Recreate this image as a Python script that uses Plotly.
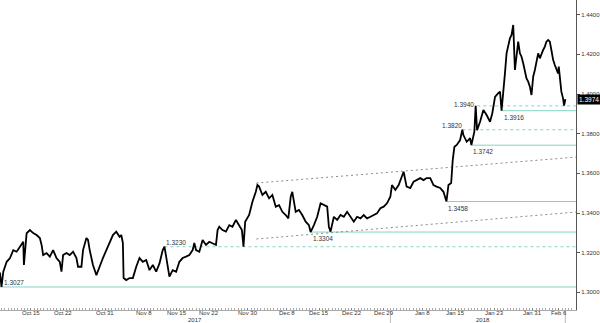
import numpy as np
import plotly.graph_objects as go

# ---------------- data (trading days since 2017-10-09 open, GBP/USD) ----------------
START = "2017-10-09"

day = [0.23, 0.46, 0.74, 1.26, 1.77, 2.28, 2.80, 3.31, 3.82, 3.92, 4.34, 4.85, 5.35, 5.88,
       6.38, 6.65, 6.89, 7.42, 7.92, 8.43, 8.95, 9.46, 9.72, 9.97, 10.49, 11.0, 11.51,
       12.03, 12.28, 12.80, 13.05, 13.57, 13.82, 14.08, 14.58, 15.11, 15.62,
       16.12, 16.65, 17.15, 17.66, 18.18, 18.69, 18.95, 19.20, 19.31, 19.72, 20.23, 20.74,
       21.26, 21.77, 22.28, 22.80, 23.31, 23.82, 24.34, 24.85, 25.35, 25.62, 25.88, 26.38,
       26.89, 27.42, 27.92, 28.43, 28.95, 29.46, 29.97, 30.23, 30.49, 31.0,
       31.51, 32.03, 32.54, 33.05, 33.57, 33.82, 34.08, 34.58, 35.11, 35.62, 36.12, 36.65,
       37.15, 37.57, 37.82, 38.08, 38.69, 39.20, 39.72, 39.97, 40.23, 40.74, 41.26, 41.77,
       42.28, 42.80, 43.31, 43.82, 44.34, 44.74, 45.11, 45.35, 45.88, 46.38,
       46.89, 47.42, 47.92, 48.18, 48.69, 49.20, 49.72, 50.23, 50.74, 51.0, 51.26, 51.77,
       52.28, 52.80, 53.31, 53.82, 54.34, 54.85, 55.35, 55.88, 56.38, 56.89, 57.42, 57.92,
       58.43, 58.95, 59.46, 59.97, 60.49, 60.74, 61.26, 61.77, 62.2, 62.54,
       63.0, 63.57, 64.08, 64.54, 65.11, 65.62, 66.08, 66.65, 67.15, 67.62, 68.18, 68.69,
       69.15, 69.46, 69.88, 70.12, 70.38, 70.74, 71.26, 71.6, 71.77, 72.28, 72.80, 73.0,
       73.46, 73.66, 73.88, 74.34, 74.85, 75.35, 75.88, 76.23, 76.65, 77.15,
       77.42, 77.66, 77.92, 78.18, 78.43, 78.69, 78.95, 79.20, 79.46, 79.72, 79.97, 80.23,
       80.49, 80.74, 81.0, 81.26, 81.51, 81.77, 82.03, 82.28, 82.54, 82.80, 83.05, 83.31,
       83.57, 83.82, 84.08, 84.34, 84.58, 84.85, 85.11, 85.35, 85.62, 85.88, 86.12, 86.38,
       86.49, 86.65, 86.89, 87.15, 87.31, 87.51]

price = [1.3100, 1.3027, 1.3104, 1.3154, 1.3173, 1.3213, 1.3205, 1.3230, 1.3255, 1.3138, 1.3298, 1.3314, 1.3299, 1.3289,
         1.3274, 1.3239, 1.3188, 1.3198, 1.3180, 1.3213, 1.3173, 1.3154, 1.3104, 1.3188, 1.3198, 1.3188, 1.3205,
         1.3173, 1.3129, 1.3129, 1.3213, 1.3274, 1.3264, 1.3213, 1.3138, 1.3087, 1.3133,
         1.3173, 1.3213, 1.3255, 1.3289, 1.3306, 1.3280, 1.3289, 1.3249, 1.3072, 1.3062, 1.3072, 1.3072,
         1.3129, 1.3173, 1.3154, 1.3163, 1.3112, 1.3138, 1.3104, 1.3146, 1.3213, 1.3230, 1.3180, 1.3079,
         1.3112, 1.3104, 1.3154, 1.3173, 1.3180, 1.3188, 1.3213, 1.3249, 1.3213, 1.3205,
         1.3264, 1.3239, 1.3255, 1.3249, 1.3239, 1.3314, 1.3331, 1.3314, 1.3306, 1.3339, 1.3331, 1.3365,
         1.3339, 1.3314, 1.3230, 1.3356, 1.3390, 1.3457, 1.3507, 1.3541, 1.3533, 1.3491, 1.3507, 1.3474,
         1.3491, 1.3432, 1.3440, 1.3406, 1.3390, 1.3373, 1.3482, 1.3507, 1.3406, 1.3415,
         1.3390, 1.3356, 1.3339, 1.3304, 1.3339, 1.3381, 1.3449, 1.3440, 1.3432, 1.3331, 1.3306, 1.3381,
         1.3365, 1.3390, 1.3381, 1.3406, 1.3381, 1.3356, 1.3381, 1.3373, 1.3390, 1.3373, 1.3381, 1.3390,
         1.3398, 1.3424, 1.3432, 1.3449, 1.3482, 1.3541, 1.3516, 1.3541, 1.3580, 1.3608,
         1.3533, 1.3526, 1.3558, 1.3566, 1.3576, 1.3566, 1.3576, 1.3576, 1.3541, 1.3533, 1.3526, 1.3507,
         1.3458, 1.3541, 1.3551, 1.3667, 1.3734, 1.3743, 1.3768, 1.3820, 1.3793, 1.3759, 1.3777, 1.3742,
         1.3810, 1.3940, 1.3818, 1.3860, 1.3919, 1.3894, 1.3860, 1.3903, 1.3986, 1.4004,
         1.4012, 1.3916, 1.3995, 1.4104, 1.4205, 1.4239, 1.4281, 1.4298, 1.4348, 1.4121, 1.4205, 1.4264,
         1.4205, 1.4188, 1.4155, 1.4113, 1.4079, 1.4062, 1.4037, 1.3995, 1.4087, 1.4121, 1.4172, 1.4205,
         1.4180, 1.4205, 1.4222, 1.4239, 1.4264, 1.4272, 1.4264, 1.4222, 1.4172, 1.4146, 1.4121, 1.4104,
         1.4138, 1.4071, 1.4012, 1.3978, 1.3942, 1.3974]

tick_dates = ["2017-10-15", "2017-10-22", "2017-10-31", "2017-11-08", "2017-11-15", "2017-11-22",
              "2017-11-30", "2017-12-08", "2017-12-15", "2017-12-22", "2017-12-29", "2018-01-08",
              "2018-01-15", "2018-01-23", "2018-01-31", "2018-02-06"]
tick_text = ["Oct 15", "Oct 22", "Oct 31", "Nov 8", "Nov 15", "Nov 22", "Nov 30", "Dec 8",
             "Dec 15", "Dec 22", "Dec 29", "Jan 8", "Jan 15", "Jan 23", "Jan 31", "Feb 6"]

y_ticks = [1.30, 1.32, 1.34, 1.36, 1.38, 1.40, 1.42, 1.44]

# horizontal support / resistance levels
level_value = [1.3027, 1.3230, 1.3304, 1.3458, 1.3742, 1.3820, 1.3916, 1.3940]
level_start = [None, 25.62, 48.18, 69.15, 73.0, 71.6, 77.66, 73.9]
level_dash = ["solid", "dash", "solid", "solid", "solid", "dash", "solid", "dash"]
level_label = ["above", "above", "below", "below", "below", "leftabove", "below", "left"]

# channel trendlines
trend_day = [[39.8, 89.2], [39.8, 89.2]]
trend_value = [[1.3551, 1.3682], [1.3269, 1.3405]]

last_price = price[-1]
year_sep_dates = ["2018-01-01", "2018-02-07"]
year_labels = ["2017", "2018"]

# ---------------- helpers ----------------
def tday(s):
    d = np.datetime64(s, "D")
    n = int(np.busday_count(np.datetime64(START, "D"), d))
    return n + (0.5 if np.is_busday(d) else 0.0)

XMIN, XMAX = 0.23, 89.15
YMIN, YMAX = 1.2911, 1.4474
TEAL = "#86d3c3"
TXT = "#333333"
FONT = "Liberation Sans"

fig = go.Figure()

shapes = []
annotations = []
for v, s, dsh, lab in zip(level_value, level_start, level_dash, level_label):
    x0 = XMIN if s is None else s
    shapes.append(dict(type="line", xref="x", yref="y", x0=x0, x1=XMAX, y0=v, y1=v,
                       line=dict(color=TEAL, width=1, dash="solid" if dsh == "solid" else "3px,3px"),
                       layer="below"))
    txt = f"{v:.4f}"
    if lab == "above":
        annotations.append(dict(x=x0, y=v, text=txt, xanchor="left", yanchor="bottom",
                                xshift=2 if s is None else 0, yshift=-1, showarrow=False))
    elif lab == "below":
        annotations.append(dict(x=x0, y=v, text=txt, xanchor="left", yanchor="top",
                                yshift=-1, showarrow=False))
    elif lab == "leftabove":
        annotations.append(dict(x=x0, y=v, text=txt, xanchor="right", yanchor="bottom",
                                xshift=2, yshift=-1, showarrow=False))
    else:
        annotations.append(dict(x=x0, y=v, text=txt, xanchor="right", yanchor="middle",
                                xshift=-1, yshift=1, showarrow=False))

for td, tv in zip(trend_day, trend_value):
    fig.add_trace(go.Scatter(x=td, y=tv, mode="lines", hoverinfo="skip",
                             line=dict(color="#8a8a8a", width=1, dash="2px,3px")))

fig.add_trace(go.Scatter(x=day, y=price, mode="lines",
                         line=dict(color="#000000", width=1.8)))

# current price tag
annotations.append(dict(xref="paper", x=1, y=last_price, text=f"{last_price:.4f}", xanchor="left",
                        yanchor="middle", xshift=1, showarrow=False, bgcolor="#000000",
                        font=dict(color="#ffffff", size=6.5, family=FONT), borderpad=1))

# date tick labels (placed just under the axis line)
tick_pos = [tday(d) for d in tick_dates]
for tp, tt in zip(tick_pos, tick_text):
    annotations.append(dict(x=tp, xref="x", yref="paper", y=-0.011, text=tt, showarrow=False,
                            yanchor="middle", xanchor="center", font=dict(size=6, color=TXT, family=FONT)))

# year labels and separators
year_pos = [(XMIN + tday(year_sep_dates[0])) / 2, (tday(year_sep_dates[0]) + XMAX) / 2]
for yl, xp in zip(year_labels, year_pos):
    annotations.append(dict(x=xp, xref="x", yref="paper", y=-0.033, text=yl, showarrow=False,
                            yanchor="middle", font=dict(size=6, color=TXT, family=FONT)))
for sd in year_sep_dates:
    xs = tday(sd)
    shapes.append(dict(type="line", xref="x", yref="paper", x0=xs, x1=xs, y0=0, y1=-0.05,
                       line=dict(color="#bbbbbb", width=1)))

for a in annotations:
    a.setdefault("font", dict(size=6.5, color=TXT, family=FONT))
    a.setdefault("xref", "x")
    a.setdefault("yref", "y")

fig.update_layout(
    width=600, height=323,
    margin=dict(l=0, r=22, t=0, b=13),
    paper_bgcolor="white", plot_bgcolor="white",
    showlegend=False,
    shapes=shapes, annotations=annotations,
    font=dict(family=FONT, size=6, color=TXT),
    xaxis=dict(range=[XMIN, XMAX], showgrid=False, zeroline=False,
               tickmode="array", tickvals=tick_pos, showticklabels=False,
               ticks="inside", ticklen=2, tickcolor="#888",
               showline=True, linecolor="#aaaaaa", linewidth=1,
               minor=dict(tickmode="linear", tick0=0, dtick=0.5, ticklen=2, tickcolor="#aaa", ticks="inside")),
    yaxis=dict(range=[YMIN, YMAX], side="right", showgrid=False, zeroline=False,
               tickmode="array", tickvals=y_ticks, tickformat=".4f",
               ticks="outside", ticklen=3, tickcolor="#555", tickfont=dict(size=6, color=TXT),
               showline=True, linecolor="#555555", linewidth=1),
)

fig.write_html("out.html")
